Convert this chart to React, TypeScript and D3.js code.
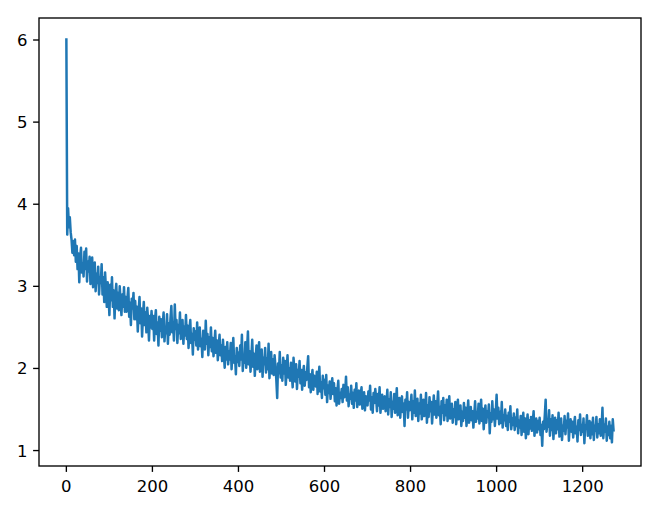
import React from "react";
import * as d3 from "d3";

// loss recorded every 2 steps (x = index * STEP)
const STEP = 2;
const lossValues: number[] = [
  6.02, 3.63, 3.95, 3.72, 3.84, 3.66, 3.57, 3.41, 3.55, 3.38,
  3.57, 3.30, 3.49, 3.21, 3.40, 3.05, 3.35, 3.47, 3.17, 3.28,
  3.12, 3.42, 3.21, 3.46, 3.06, 3.30, 3.18, 3.36, 3.03, 3.27,
  3.35, 2.99, 3.20, 3.29, 2.94, 3.15, 3.04, 3.24, 2.90, 3.11,
  3.04, 3.27, 2.90, 3.11, 2.81, 3.17, 2.96, 2.75, 3.05, 2.89,
  2.65, 3.02, 2.83, 3.11, 2.75, 2.95, 2.61, 2.90, 3.03, 2.73,
  2.92, 2.71, 3.00, 2.82, 2.65, 2.90, 2.75, 2.99, 2.69, 2.87,
  2.69, 2.86, 2.98, 2.63, 2.80, 2.53, 2.85, 2.73, 2.92, 2.60,
  2.82, 2.60, 2.75, 2.45, 2.70, 2.87, 2.55, 2.73, 2.39, 2.64,
  2.81, 2.53, 2.68, 2.44, 2.74, 2.59, 2.34, 2.64, 2.50, 2.70,
  2.48, 2.64, 2.34, 2.59, 2.71, 2.42, 2.56, 2.28, 2.63, 2.46,
  2.60, 2.38, 2.54, 2.68, 2.33, 2.50, 2.43, 2.66, 2.30, 2.55,
  2.41, 2.61, 2.76, 2.44, 2.56, 2.34, 2.78, 2.48, 2.59, 2.31,
  2.53, 2.43, 2.68, 2.36, 2.48, 2.59, 2.30, 2.51, 2.40, 2.65,
  2.36, 2.52, 2.25, 2.47, 2.59, 2.31, 2.42, 2.17, 2.49, 2.35,
  2.45, 2.28, 2.56, 2.23, 2.40, 2.50, 2.27, 2.36, 2.14, 2.46,
  2.33, 2.23, 2.58, 2.30, 2.42, 2.16, 2.38, 2.26, 2.50, 2.21,
  2.37, 2.15, 2.29, 2.46, 2.19, 2.34, 2.10, 2.27, 2.41, 2.16,
  2.28, 2.09, 2.35, 2.17, 2.01, 2.26, 2.11, 2.32, 2.05, 2.21,
  2.11, 2.31, 1.99, 2.20, 2.37, 2.07, 2.15, 1.93, 2.25, 2.08,
  2.19, 2.03, 2.28, 2.11, 2.41, 1.97, 2.16, 2.07, 2.32, 2.01,
  2.24, 2.45, 2.05, 2.21, 1.96, 2.14, 2.35, 2.02, 2.18, 1.91,
  2.14, 2.28, 1.99, 2.17, 2.32, 1.96, 2.10, 2.23, 1.90, 2.13,
  2.05, 2.25, 1.95, 2.12, 1.99, 2.30, 1.88, 2.08, 2.20, 1.94,
  2.11, 1.92, 2.16, 2.02, 1.86, 1.64, 2.06, 1.94, 2.20, 1.89,
  2.04, 1.85, 2.13, 1.94, 2.09, 1.80, 1.99, 2.16, 1.89, 2.00,
  1.85, 2.07, 1.93, 1.77, 2.13, 1.96, 1.84, 2.05, 1.75, 1.98,
  1.90, 2.09, 1.82, 1.98, 1.74, 1.94, 2.03, 1.79, 1.95, 1.86,
  2.01, 2.15, 1.77, 1.93, 1.71, 1.88, 1.98, 1.74, 1.91, 1.82,
  1.78, 1.96, 1.69, 1.87, 2.02, 1.72, 1.83, 1.64, 1.91, 1.76,
  1.86, 1.68, 1.92, 1.59, 1.79, 1.70, 1.84, 1.63, 1.76, 1.88,
  1.69, 1.82, 1.60, 1.76, 1.55, 1.73, 1.85, 1.57, 1.70, 1.64,
  1.75, 1.59, 1.80, 1.65, 1.71, 1.90, 1.61, 1.77, 1.54, 1.68,
  1.63, 1.79, 1.57, 1.70, 1.52, 1.74, 1.61, 1.82, 1.53, 1.67,
  1.73, 1.56, 1.67, 1.77, 1.51, 1.63, 1.71, 1.49, 1.66, 1.59,
  1.55, 1.72, 1.61, 1.79, 1.50, 1.65, 1.46, 1.70, 1.58, 1.75,
  1.63, 1.48, 1.69, 1.55, 1.77, 1.46, 1.60, 1.68, 1.51, 1.57,
  1.66, 1.48, 1.57, 1.74, 1.44, 1.62, 1.53, 1.71, 1.41, 1.59,
  1.51, 1.69, 1.46, 1.59, 1.76, 1.43, 1.55, 1.64, 1.40, 1.57,
  1.66, 1.47, 1.57, 1.30, 1.62, 1.50, 1.71, 1.40, 1.59, 1.49,
  1.55, 1.68, 1.38, 1.60, 1.46, 1.73, 1.42, 1.53, 1.63, 1.36,
  1.57, 1.45, 1.68, 1.38, 1.53, 1.62, 1.42, 1.49, 1.70, 1.34,
  1.55, 1.41, 1.65, 1.48, 1.59, 1.33, 1.51, 1.67, 1.44, 1.60,
  1.40, 1.57, 1.72, 1.43, 1.53, 1.32, 1.60, 1.46, 1.64, 1.37,
  1.55, 1.43, 1.62, 1.36, 1.51, 1.66, 1.39, 1.48, 1.57, 1.34,
  1.50, 1.41, 1.59, 1.32, 1.47, 1.62, 1.38, 1.43, 1.55, 1.30,
  1.47, 1.36, 1.58, 1.40, 1.52, 1.30, 1.45, 1.61, 1.34, 1.43,
  1.53, 1.37, 1.48, 1.28, 1.44, 1.60, 1.35, 1.47, 1.39, 1.57,
  1.33, 1.46, 1.62, 1.36, 1.51, 1.26, 1.43, 1.55, 1.34, 1.48,
  1.41, 1.56, 1.21, 1.45, 1.35, 1.60, 1.38, 1.50, 1.30, 1.46,
  1.68, 1.39, 1.52, 1.32, 1.47, 1.34, 1.59, 1.28, 1.43, 1.37,
  1.50, 1.30, 1.42, 1.25, 1.46, 1.35, 1.54, 1.26, 1.39, 1.31,
  1.45, 1.25, 1.40, 1.30, 1.50, 1.21, 1.36, 1.28, 1.42, 1.19,
  1.35, 1.46, 1.23, 1.39, 1.15, 1.32, 1.44, 1.20, 1.37, 1.27,
  1.41, 1.24, 1.34, 1.48, 1.18, 1.30, 1.39, 1.22, 1.36, 1.26,
  1.40, 1.19, 1.31, 1.06, 1.35, 1.26, 1.43, 1.62, 1.23, 1.34,
  1.29, 1.49, 1.18, 1.38, 1.25, 1.43, 1.14, 1.33, 1.40, 1.21,
  1.37, 1.26, 1.46, 1.17, 1.32, 1.39, 1.13, 1.30, 1.24, 1.42,
  1.20, 1.36, 1.28, 1.45, 1.12, 1.31, 1.38, 1.23, 1.35, 1.16,
  1.32, 1.41, 1.21, 1.29, 1.11, 1.37, 1.25, 1.44, 1.19, 1.31,
  1.23, 1.39, 1.09, 1.31, 1.27, 1.43, 1.18, 1.28, 1.36, 1.15,
  1.34, 1.20, 1.40, 1.13, 1.30, 1.24, 1.41, 1.16, 1.32, 1.21,
  1.38, 1.18, 1.27, 1.52, 1.15, 1.31, 1.23, 1.39, 1.12, 1.29,
  1.19, 1.35, 1.15, 1.30, 1.10, 1.38, 1.23,
];
const xTickValues = [0, 200, 400, 600, 800, 1000, 1200];
const yTickValues = [1, 2, 3, 4, 5, 6];

const W = 657;
const H = 509;
const left = 39;
const right = 641;
const top = 18;
const bottom = 466;

export default function App() {
  const pts = lossValues.map((v, i) => [i * STEP, v] as [number, number]);
  const xExt = d3.extent(pts, (d) => d[0]) as [number, number];
  const yExt = d3.extent(pts, (d) => d[1]) as [number, number];
  const xPad = (xExt[1] - xExt[0]) * 0.05;
  const yPad = (yExt[1] - yExt[0]) * 0.05;
  const x = d3.scaleLinear().domain([xExt[0] - xPad, xExt[1] + xPad]).range([left, right]);
  const y = d3.scaleLinear().domain([yExt[0] - yPad, yExt[1] + yPad]).range([bottom, top]);
  const line = d3.line<[number, number]>().x((d) => x(d[0])).y((d) => y(d[1]));
  const fs = 16.5;
  const tickLen = 5.9;
  const font = "'DejaVu Sans', sans-serif";
  return (
    <svg
      width={W}
      height={H}
      style={{ position: "absolute", left: 0, top: 0, background: "#fff" }}
    >
      <rect x={0} y={0} width={W} height={H} fill="#fff" />
      <path
        d={line(pts) || ""}
        fill="none"
        stroke="#1f77b4"
        strokeWidth={2.5}
        strokeLinejoin="round"
        strokeLinecap="butt"
      />
      <rect
        x={left}
        y={top}
        width={right - left}
        height={bottom - top}
        fill="none"
        stroke="#000"
        strokeWidth={1.35}
      />
      {xTickValues.map((t) => (
        <g key={"x" + t}>
          <line x1={x(t)} x2={x(t)} y1={bottom} y2={bottom + tickLen} stroke="#000" strokeWidth={1.35} />
          <text x={x(t)} y={492} textAnchor="middle" fontFamily={font} fontSize={fs} fill="#000">
            {t}
          </text>
        </g>
      ))}
      {yTickValues.map((t) => (
        <g key={"y" + t}>
          <line x1={left - tickLen} x2={left} y1={y(t)} y2={y(t)} stroke="#000" strokeWidth={1.35} />
          <text x={27.5} y={y(t) + 6} textAnchor="end" fontFamily={font} fontSize={fs} fill="#000">
            {t}
          </text>
        </g>
      ))}
    </svg>
  );
}
